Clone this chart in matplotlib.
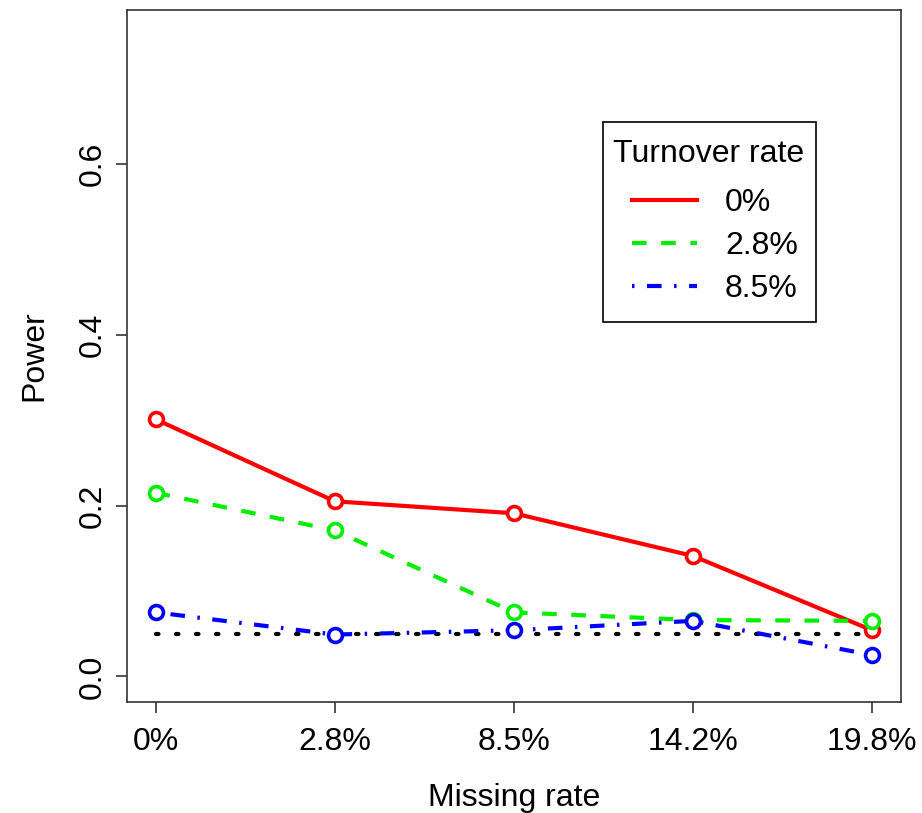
import matplotlib
matplotlib.use("Agg")
import matplotlib.pyplot as plt
from matplotlib.legend_handler import HandlerLine2D
from matplotlib.patches import Rectangle

# data
missing_labels = ["0%", "2.8%", "8.5%", "14.2%", "19.8%"]
x_pos = [1, 2, 3, 4, 5]
turnover_labels = ["0%", "2.8%", "8.5%"]
power_0 = [0.301, 0.205, 0.191, 0.141, 0.054]
power_28 = [0.215, 0.171, 0.075, 0.066, 0.065]
power_85 = [0.075, 0.049, 0.054, 0.065, 0.025]
alpha_level = 0.05

plt.rcParams["font.family"] = ["Liberation Sans", "DejaVu Sans"]
FS = 23

fig = plt.figure(figsize=(9.22, 8.13), dpi=100)
ax = fig.add_axes([0.1377, 0.1365, 0.8393, 0.851])

styles = [
    (power_0, "#FF0000", None),
    (power_28, "#00EE00", (3.5, 3.5)),
    (power_85, "#0000FF", (0.6, 3, 3.5, 3)),
]
handles = []
for vals, col, dash in styles:
    kw = dict(color=col, lw=3, marker="o", ms=10, mfc="white", mec=col, mew=2.6,
              solid_capstyle="butt")
    if dash is not None:
        kw["dashes"] = dash
    ax.plot(x_pos, vals, **kw)
    h = plt.Line2D([], [], color=col, lw=3, **({"dashes": dash} if dash else {}))
    handles.append(h)

ax.plot(x_pos, [alpha_level] * len(x_pos), color="black", lw=3, dashes=(0.6, 4.2),
        dash_capstyle="round", zorder=1)

ax.set_xlim(0.84, 5.16)
ax.set_ylim(-0.03, 0.78)
ax.set_xticks(x_pos)
ax.set_xticklabels(missing_labels)
ax.set_yticks([0.0, 0.2, 0.4, 0.6])
ax.set_yticklabels(["0.0", "0.2", "0.4", "0.6"], rotation=90, va="center")
ax.tick_params(axis="both", labelsize=FS, length=8, width=1.2, color="#333333", pad=6)
ax.tick_params(axis="x", pad=10)
for s in ax.spines.values():
    s.set_linewidth(1.2)
    s.set_color("#333333")

ax.set_xlabel("Missing rate", fontsize=FS, labelpad=18.5)
ax.set_ylabel("Power", fontsize=FS, labelpad=20)

# legend box (R style: taller than matplotlib's padding gives)
ax.add_patch(Rectangle((0.615, 0.549), 0.275, 0.289, transform=ax.transAxes,
                       fill=True, facecolor="white", edgecolor="black", lw=1.2, zorder=4))
leg = ax.legend(handles, turnover_labels, title="Turnover rate", fontsize=FS,
                title_fontsize=FS, loc="upper left", bbox_to_anchor=(0.615, 0.828),
                frameon=False, handlelength=2.63,
                handletextpad=0.88, labelspacing=0.4, borderpad=0.31, borderaxespad=0,
                handler_map={plt.Line2D: HandlerLine2D(xpad=0.6)})
leg.set_zorder(5)
leg._legend_box.align = "left"
leg._legend_box.sep = 0.6 * FS

plt.savefig("out.png", dpi=100)
